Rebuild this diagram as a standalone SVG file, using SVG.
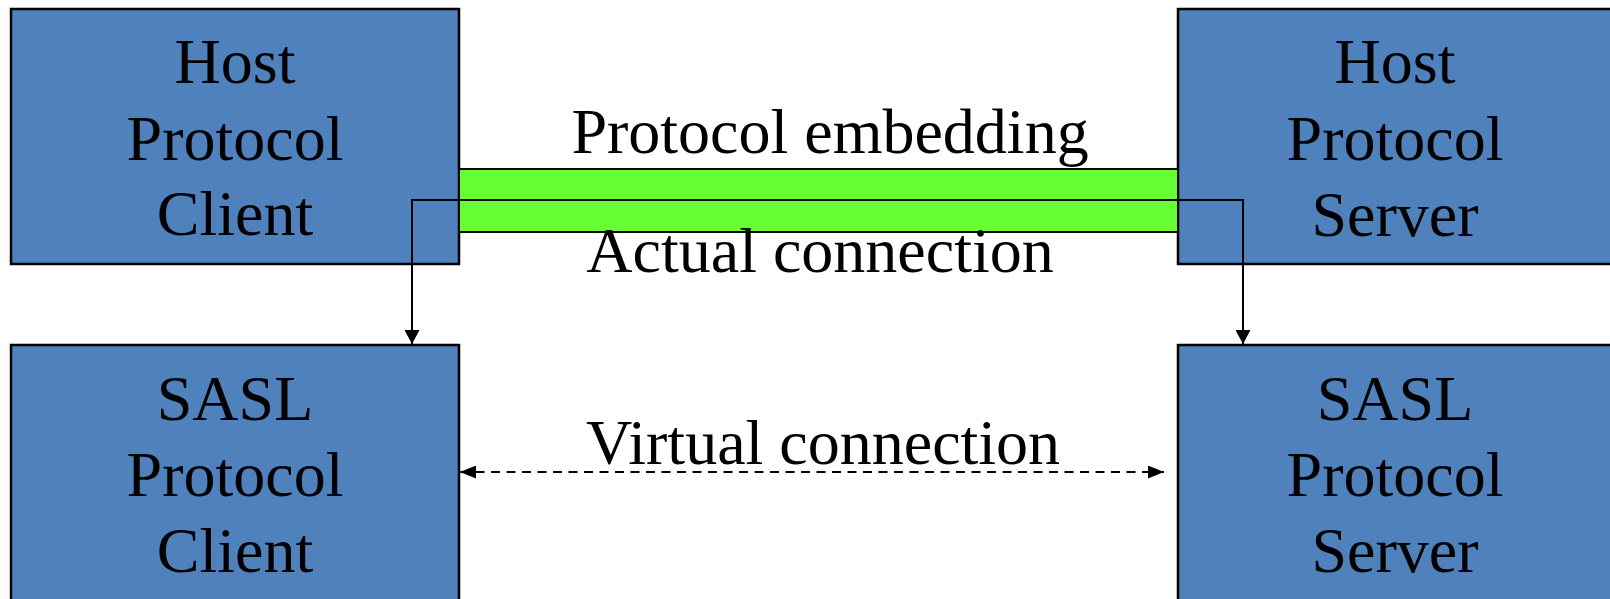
<svg xmlns="http://www.w3.org/2000/svg" width="1610" height="599" viewBox="0 0 1610 599">
<style>
.box{fill:#4F81BD;stroke:#000;stroke-width:2.5}
.t{font-family:"Liberation Serif","Times New Roman",serif;font-size:64px;fill:#000;text-anchor:middle}
.c{fill:none;stroke:#000;stroke-width:2}
</style>
<defs>
<marker id="ahd" viewBox="0 0 14 15" refX="14" refY="7.5" markerWidth="14" markerHeight="15" markerUnits="userSpaceOnUse" orient="auto">
<path d="M0,0 L14,7.5 L0,15 z" fill="#000"/>
</marker>
<marker id="ahv" viewBox="0 0 16 13" refX="16" refY="6.5" markerWidth="16" markerHeight="13" markerUnits="userSpaceOnUse" orient="auto-start-reverse">
<path d="M0,0 L16,6.5 L0,13 z" fill="#000"/>
</marker>
</defs>
<g id="host-client">
<rect class="box" x="11" y="9" width="448" height="255"/>
<text class="t" x="235" y="83">Host</text>
<text class="t" x="235" y="160">Protocol</text>
<text class="t" x="235" y="235">Client</text>
</g>
<g id="host-server">
<rect class="box" x="1178" y="9" width="448" height="255"/>
<text class="t" x="1395" y="83">Host</text>
<text class="t" x="1395" y="160">Protocol</text>
<text class="t" x="1395" y="236">Server</text>
</g>
<g id="sasl-client">
<rect class="box" x="11" y="345" width="448" height="265"/>
<text class="t" x="235" y="420">SASL</text>
<text class="t" x="235" y="496">Protocol</text>
<text class="t" x="235" y="572">Client</text>
</g>
<g id="sasl-server">
<rect class="box" x="1178" y="345" width="448" height="265"/>
<text class="t" x="1395" y="420">SASL</text>
<text class="t" x="1395" y="496">Protocol</text>
<text class="t" x="1395" y="572">Server</text>
</g>
<g id="embedding">
<rect x="459" y="169" width="719" height="63" fill="#66FF33" stroke="#000" stroke-width="2"/>
</g>
<g id="connectors">
<path class="c" d="M459,200 H412 V344" marker-end="url(#ahd)"/>
<path class="c" d="M412,200 H1243 V344" marker-end="url(#ahd)"/>
<line class="c" x1="460" y1="472" x2="1164" y2="472" stroke-width="2.5" stroke-dasharray="9,6.5" marker-start="url(#ahv)" marker-end="url(#ahv)"/>
</g>
<g id="labels">
<text class="t" x="830" y="153">Protocol embedding</text>
<text class="t" x="820" y="272">Actual connection</text>
<text class="t" x="823" y="464">Virtual connection</text>
</g>
</svg>
